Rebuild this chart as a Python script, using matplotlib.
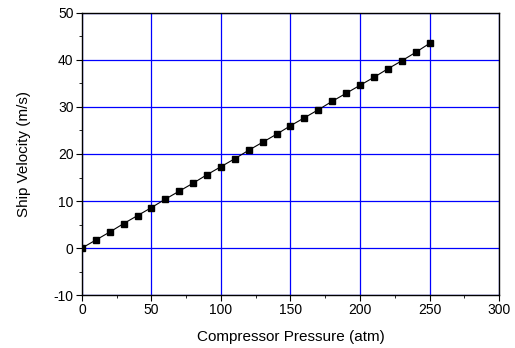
import matplotlib
matplotlib.use("Agg")
import matplotlib.pyplot as plt
from matplotlib.ticker import MultipleLocator

plt.rcParams['font.family'] = ['Liberation Sans', 'DejaVu Sans']
plt.rcParams['axes.unicode_minus'] = False

# data
pressure = [0, 10, 20, 30, 40, 50, 60, 70, 80, 90, 100, 110, 120,
            130, 140, 150, 160, 170, 180, 190, 200, 210, 220, 230, 240, 250]
velocity = [0.0, 1.7, 3.4, 5.2, 6.9, 8.6, 10.4, 12.1, 13.8, 15.6, 17.3, 19.0, 20.8,
            22.5, 24.2, 26.0, 27.7, 29.4, 31.2, 32.9, 34.6, 36.3, 38.1, 39.8, 41.6, 43.5]

fig = plt.figure(figsize=(5.15, 3.48), dpi=100)
ax = fig.add_axes([0.159, 0.152, 0.810, 0.811])

ax.plot(pressure, velocity, color='black', lw=0.8, marker='s', ms=5,
        markerfacecolor='black', markeredgecolor='black', zorder=3)

ax.set_xlim(0, 300)
ax.set_ylim(-10, 50)
ax.xaxis.set_major_locator(MultipleLocator(50))
ax.xaxis.set_minor_locator(MultipleLocator(25))
ax.yaxis.set_major_locator(MultipleLocator(10))
ax.yaxis.set_minor_locator(MultipleLocator(5))
ax.grid(True, which='major', color='#0000ff', lw=0.9)
ax.set_axisbelow(True)

ax.tick_params(which='both', direction='out', labelsize=10, color='black')
ax.tick_params(which='major', length=4, pad=2)
ax.tick_params(which='minor', length=2.5)
for s in ax.spines.values():
    s.set_linewidth(1.0)

ax.set_xlabel('Compressor Pressure (atm)', fontsize=11, labelpad=9)
ax.set_ylabel('Ship Velocity (m/s)', fontsize=11, labelpad=16)

fig.savefig('out.png', dpi=100)
